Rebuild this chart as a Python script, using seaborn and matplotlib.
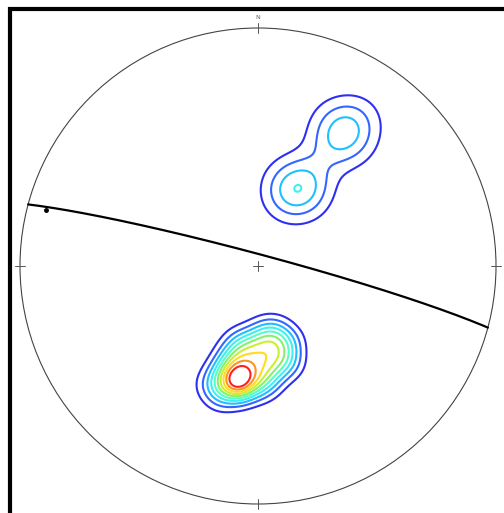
import numpy as np
import matplotlib
matplotlib.use("Agg")
import matplotlib.pyplot as plt
import seaborn as sns

# ---------------- data ----------------
# plane drawn as a great circle (right-hand rule strike / dip)
PLANE_STRIKE = 285
PLANE_DIP = 86

# lineation lying on the plane (equal-area net coords, unit radius)
LINEATION_X = [-0.891]
LINEATION_Y = [0.235]

# poles, set 1 (southern cluster), equal-area net coords
SET1_X = [0.027, 0.080,
          -0.025, 0.028, 0.082, -0.079, 0.135,
          0.001, 0.055, 0.108, -0.052, -0.105,
          -0.025, 0.028, -0.079, 0.082, -0.132, 0.135,
          0.001, 0.055, -0.052, -0.105, -0.159,
          -0.025, 0.028, -0.079, -0.132, -0.200,
          -0.159,
          -0.084, -0.092, -0.071, -0.084]
SET1_Y = [-0.273, -0.273,
          -0.319, -0.319, -0.319, -0.319, -0.319,
          -0.366, -0.366, -0.366, -0.366, -0.366,
          -0.412, -0.412, -0.412, -0.412, -0.412, -0.412,
          -0.458, -0.458, -0.458, -0.458, -0.458,
          -0.504, -0.504, -0.504, -0.504, -0.500,
          -0.550,
          -0.450, -0.496, -0.487, -0.525]

# poles, set 2 (north-eastern cluster, two sub-groups)
SET2_X = [0.419, 0.309, 0.398, 0.321,
          0.217, 0.121, 0.205, 0.126]
SET2_Y = [0.618, 0.507, 0.520, 0.604,
          0.374, 0.284, 0.291, 0.355]

# smoothing radius per set (net units) and contour interval
SET1_KERNEL = 0.050
SET2_KERNEL = 0.080
INTERVAL = 0.760
N_CONTOURS = 10

CONTOUR_COLORS = ['#2f2ff0', '#3366ff', '#1fc0ff', '#3ef0f0', '#55ffc8',
                  '#88f070', '#c8f030', '#ffdc20', '#ff9420', '#ff2020']


def great_circle(strike, dip, n=200):
    # lines within the plane, projected to the lower hemisphere (equal area)
    s = np.radians(strike)
    dd = np.radians(strike + 90)
    d = np.radians(dip)
    t = np.linspace(0, np.pi, n)
    e = np.cos(t) * np.sin(s) + np.sin(t) * np.sin(dd) * np.cos(d)
    nn = np.cos(t) * np.cos(s) + np.sin(t) * np.cos(dd) * np.cos(d)
    down = np.sin(t) * np.sin(d)
    h = np.hypot(e, nn)
    r = np.sqrt(1 - down)
    return r * e / h, r * nn / h


def pole_density(gx, gy, xs, ys, kernel):
    # gaussian smoothing of the poles on the net
    px = np.asarray(xs)
    py = np.asarray(ys)
    d2 = (gx[..., None] - px) ** 2 + (gy[..., None] - py) ** 2
    return np.exp(-d2 / (2 * kernel ** 2)).sum(axis=-1)


# ---------------- figure ----------------
sns.set_style("white")
fig = plt.figure(figsize=(5.04, 5.13), dpi=100)
ax = fig.add_axes([0, 0, 1, 1])
ax.axis("off")

# frame (only top and left edges are visible in the crop)
ax.plot([-1.05, 1.2], [1.078, 1.078], color="black", lw=3.0, solid_capstyle="butt")
ax.plot([-1.042, -1.042], [1.088, -1.2], color="black", lw=3.0, solid_capstyle="butt")

# primitive circle and ticks
ax.add_patch(plt.Circle((0, 0), 1, fill=False, color="#444444", lw=0.8))
tk = 0.022
net_ticks = [([0, 0], [1 - tk, 1 + tk]), ([0, 0], [-1 - tk, -1 + tk]),
             ([-1 - tk, -1 + tk], [0, 0]), ([1 - tk, 1 + tk], [0, 0]),
             ([-tk, tk], [0, 0]), ([0, 0], [-tk, tk])]
for xs, ys in net_ticks:
    ax.plot(xs, ys, color="#555555", lw=0.7)
ax.text(0, 1.035, "N", ha="center", va="bottom", fontsize=4.5, color="#666666")

# density contours of the poles
g = np.linspace(-1, 1, 501)
gx, gy = np.meshgrid(g, g)
dens = (pole_density(gx, gy, SET1_X, SET1_Y, SET1_KERNEL)
        + pole_density(gx, gy, SET2_X, SET2_Y, SET2_KERNEL))
dens[gx ** 2 + gy ** 2 > 1] = np.nan
levels = INTERVAL * np.arange(1, N_CONTOURS + 1)
ax.contour(gx, gy, dens, levels=levels, colors=CONTOUR_COLORS, linewidths=1.5)

# plane and lineation
cx, cy = great_circle(PLANE_STRIKE, PLANE_DIP)
ax.plot(cx, cy, color="black", lw=1.6)
ax.plot(LINEATION_X, LINEATION_Y, "o", color="black", ms=2.5)

ax.set_xlim(-258 / 238, 246 / 238)
ax.set_ylim(-247 / 238, 266 / 238)
fig.savefig("out.png", dpi=100)
